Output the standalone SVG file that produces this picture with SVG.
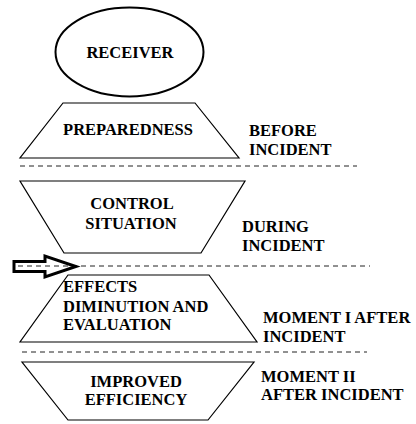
<svg xmlns="http://www.w3.org/2000/svg" width="416" height="424" viewBox="0 0 416 424">
<style>
.shape{fill:#fff;stroke:#000;stroke-width:1.2}
.dash{stroke:#222;stroke-width:1;stroke-dasharray:5 4;fill:none}
.c{text-anchor:middle}
</style>
<rect width="416" height="424" fill="#fff"/>
<g id="connectors">
<line class="dash" x1="20" y1="166" x2="357" y2="166"/>
<line class="dash" x1="18" y1="266" x2="370" y2="266"/>
<line class="dash" x1="22" y1="352" x2="367" y2="352"/>
<path d="M14,261.5 H45 V256 L76,266.5 L45,277 V271.5 H14 Z" fill="none" stroke="#000" stroke-width="3" stroke-linejoin="miter"/>
</g>
<g font-family="Liberation Serif, Times New Roman, DejaVu Serif, serif" font-weight="bold" font-size="16.5" fill="#000">
<g id="receiver">
<ellipse cx="129.5" cy="52" rx="74" ry="44.5" fill="#fff" stroke="#000" stroke-width="2"/>
<text class="c" x="130" y="58">RECEIVER</text>
</g>
<g id="preparedness">
<polygon class="shape" points="63,103 195,103 239,158 20,158"/>
<text class="c" x="128" y="135">PREPAREDNESS</text>
</g>
<g id="before">
<text x="249" y="136">BEFORE</text>
<text x="249" y="155">INCIDENT</text>
</g>
<g id="control">
<polygon class="shape" points="20,181 245,181 201,253 64,253"/>
<text class="c" x="132" y="209">CONTROL</text>
<text class="c" x="131" y="229">SITUATION</text>
</g>
<g id="during">
<text x="242" y="232">DURING</text>
<text x="242" y="251">INCIDENT</text>
</g>
<g id="effects">
<polygon class="shape" points="68,275 209,275 257,342 20,342"/>
<text x="63" y="292">EFFECTS</text>
<text x="63" y="312">DIMINUTION AND</text>
<text x="63" y="330">EVALUATION</text>
</g>
<g id="moment1">
<text x="263" y="323">MOMENT I AFTER</text>
<text x="263" y="342">INCIDENT</text>
</g>
<g id="improved">
<polygon class="shape" points="22,362 254,362 208,420 68,420"/>
<text class="c" x="136" y="387">IMPROVED</text>
<text class="c" x="136" y="405">EFFICIENCY</text>
</g>
<g id="moment2">
<text x="261" y="382">MOMENT II</text>
<text x="261" y="400">AFTER INCIDENT</text>
</g>
</g>
</svg>
